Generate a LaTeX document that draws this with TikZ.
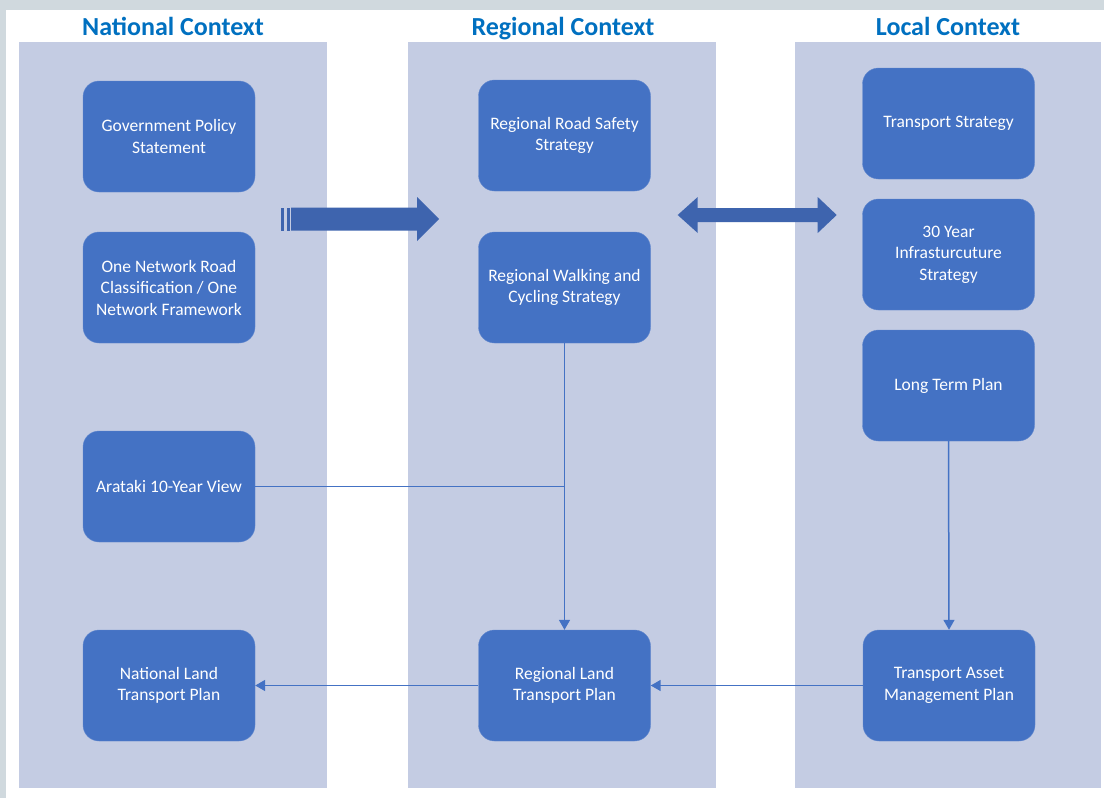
\documentclass[tikz,border=0pt]{standalone}
\usepackage{fontspec}
\setmainfont{Carlito}
\usepackage{tikz}
\usetikzlibrary{arrows.meta,backgrounds}
\definecolor{boxblue}{RGB}{68,114,196}
\definecolor{boxedge}{RGB}{98,136,206}
\definecolor{panelfill}{RGB}{196,204,227}
\definecolor{headblue}{RGB}{0,112,192}
\definecolor{bigarrow}{RGB}{62,100,174}
\definecolor{framegray}{RGB}{208,217,222}

\begin{document}
\begin{tikzpicture}[x=1pt,y=1pt]

\pgfdeclarelayer{background}
\pgfsetlayers{background,main}

\tikzstyle{block} = [draw=boxedge, fill=boxblue, text=white, rounded corners=16pt, minimum width=172pt, minimum height=111pt, inner sep=0pt, font=\fontsize{17.5}{21.5}\selectfont]
\tikzstyle{header} = [anchor=base, text=headblue, font=\fontsize{26}{30}\selectfont\bfseries]
\tikzstyle{link} = [draw=boxblue, line width=1.5pt]

\useasboundingbox (0,0) rectangle (1104,-798);

%National context: left column

\node (nat_header) [header] at (173,-35.5) {National Context};

\path (nat_header.base)+(-4,-101) node (gps) [block] {\begin{minipage}[c]{9.4em}
	\begin{center}
	Government Policy\\
	Statement
	\end{center}
\end{minipage}};

\path (gps)+(0,-151) node (onrc) [block] {\begin{minipage}[c]{9.4em}
	\begin{center}
	One Network Road\\
	Classification / One\\
	Network Framework
	\end{center}
\end{minipage}};

\path (onrc)+(0,-199) node (arataki) [block] {\begin{minipage}[c]{9.4em}
	\begin{center}
	Arataki 10-Year View
	\end{center}
\end{minipage}};

\path (arataki)+(0,-199) node (nltp) [block] {\begin{minipage}[c]{9.4em}
	\begin{center}
	National Land\\
	Transport Plan
	\end{center}
\end{minipage}};

%Regional context: middle column

\node (reg_header) [header] at (563,-35.5) {Regional Context};

\path (reg_header.base)+(1.5,-100) node (rrss) [block] {\begin{minipage}[c]{9.4em}
	\begin{center}
	Regional Road Safety\\
	Strategy
	\end{center}
\end{minipage}};

\path (rrss)+(0,-152) node (rwcs) [block] {\begin{minipage}[c]{9.4em}
	\begin{center}
	Regional Walking and\\
	Cycling Strategy
	\end{center}
\end{minipage}};

\path (rwcs)+(0,-398) node (rltp) [block] {\begin{minipage}[c]{9.4em}
	\begin{center}
	Regional Land\\
	Transport Plan
	\end{center}
\end{minipage}};

%Local context: right column

\node (loc_header) [header] at (948,-35.5) {Local Context};

\path (loc_header.base)+(0.5,-88) node (ts) [block] {\begin{minipage}[c]{9.4em}
	\begin{center}
	Transport Strategy
	\end{center}
\end{minipage}};

\path (ts)+(0,-131) node (tys) [block] {\begin{minipage}[c]{9.4em}
	\begin{center}
	30 Year\\
	Infrasturcuture\\
	Strategy
	\end{center}
\end{minipage}};

\path (tys)+(0,-131) node (ltp) [block] {\begin{minipage}[c]{9.4em}
	\begin{center}
	Long Term Plan
	\end{center}
\end{minipage}};

\path (ltp)+(0.5,-300) node (tamp) [block] {\begin{minipage}[c]{9.4em}
	\begin{center}
	Transport Asset\\
	Management Plan
	\end{center}
\end{minipage}};

%Arrows

\path (gps.east)+(26,-82.5) coordinate (big_tail);
\fill[bigarrow] (big_tail) +(0,11.5) rectangle +(3,-11.5);
\fill[bigarrow] (big_tail) +(6,11.5) rectangle +(9,-11.5);
\fill[bigarrow] (big_tail) +(10,11.5) -- +(136,11.5) -- +(136,22) -- +(158,0) -- +(136,-22) -- +(136,-11.5) -- +(10,-11.5) -- cycle;

\path (rrss.east)+(27,-79.5) coordinate (dbl_l);
\fill[bigarrow] (dbl_l) -- +(20,18) -- +(20,7) -- +(140,7) -- +(140,18) -- +(159,0) -- +(140,-18) -- +(140,-7) -- +(20,-7) -- +(20,-18) -- cycle;

\draw [link, -{Triangle[length=10pt,width=11pt]}] (rwcs.south) -- (rltp.north);
\draw [link] (arataki.east) -- (arataki.east -| rwcs.south);
\draw [link, -{Triangle[length=10pt,width=11pt]}] (ltp.south) -- (tamp.north);
\draw [link, -{Triangle[length=10pt,width=11pt]}] (tamp.west) -- (rltp.east);
\draw [link, -{Triangle[length=10pt,width=11pt]}] (rltp.west) -- (nltp.east);

\begin{pgfonlayer}{background}

\fill[framegray] (0,0) rectangle (1104,-798);
\fill[white] (6,-10) rectangle (1104,-798);

\path (gps)+(-150,94.5) coordinate (nat_a);
\path (nltp)+(158,-102.5) coordinate (nat_b);
\fill[panelfill] (nat_a) rectangle (nat_b);

\path (rrss)+(-156.5,93.5) coordinate (reg_a);
\path (rltp)+(151.5,-102.5) coordinate (reg_b);
\fill[panelfill] (reg_a) rectangle (reg_b);

\path (ts)+(-153.5,81.5) coordinate (loc_a);
\path (tamp)+(152,-102.5) coordinate (loc_b);
\fill[panelfill] (loc_a) rectangle (loc_b);

\end{pgfonlayer}

\end{tikzpicture}
\end{document}
